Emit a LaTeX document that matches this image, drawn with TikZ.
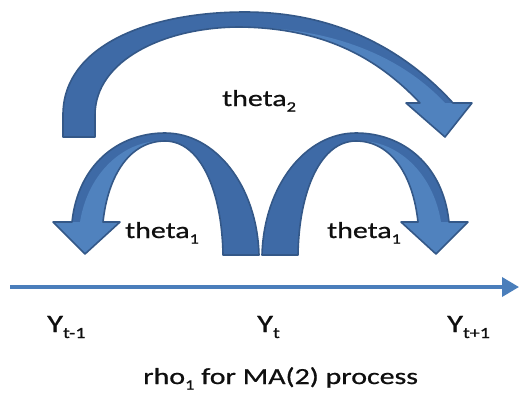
\documentclass[tikz,border=0pt]{standalone}
\usepackage{fontspec}
\setmainfont{Carlito}[FakeStretch=1.3, FakeBold=0.8]
\usetikzlibrary{arrows.meta}
\definecolor{darkface}{RGB}{62,106,166}
\definecolor{lightface}{RGB}{80,130,190}
\definecolor{edgeblue}{RGB}{52,88,136}
\definecolor{axisblue}{RGB}{74,126,187}
\definecolor{txt}{RGB}{15,15,15}
\newcommand{\sbs}[1]{\raisebox{-0.24em}{\scalebox{0.62}{#1}}}
\tikzset{
  darkpart/.style={fill=darkface},
  lightpart/.style={fill=lightface},
  outline/.style={draw=edgeblue, line width=1.6pt, line join=round},
  lbl/.style={inner sep=0pt, anchor=base west, text=txt},
  axisline/.style={draw=axisblue, line width=3.6pt, -{Triangle[length=17pt,width=19pt]}}
}
\newcommand{\smallarch}{%
  \path[darkpart] (72,222) .. controls (78,165) and (118,133) .. (165,133)
     .. controls (215,133) and (257,185) .. (259,255) -- (223,255)
     .. controls (222,190) and (200,141) .. (165,141)
     .. controls (130,141) and (108,175) .. (103,222) -- (120,222) -- (85,254) -- (53,222) -- cycle;
  \path[lightpart] (165,141) .. controls (130,141) and (108,175) .. (103,222)
     -- (120,222) -- (85,254) -- (53,222) -- (80,222)
     .. controls (88,172) and (125,139) .. (165,141) -- cycle;
  \path[outline] (72,222) .. controls (78,165) and (118,133) .. (165,133)
     .. controls (215,133) and (257,185) .. (259,255) -- (223,255)
     .. controls (222,190) and (200,141) .. (165,141)
     .. controls (130,141) and (108,175) .. (103,222) -- (120,222) -- (85,254) -- (53,222) -- cycle;
}
\begin{document}
\begin{tikzpicture}[x=1pt,y=-1pt]
\useasboundingbox[fill=white] (0,0) rectangle (519,397);
% big arrow (theta2)
\path[darkpart] (63,137) -- (63,115) .. controls (63,45) and (150,12) .. (245,12)
   .. controls (330,12) and (400,45) .. (453,103) -- (472,103) -- (445,137) -- (406,103) -- (420,103)
   .. controls (375,55) and (320,28) .. (240,27) .. controls (165,27) and (95,60) .. (95,115) -- (95,137) -- cycle;
\path[lightpart] (420,103) .. controls (375,55) and (320,28) .. (240,27)
   .. controls (330,27) and (400,55) .. (445,103) -- (472,103) -- (445,137) -- (406,103) -- cycle;
\path[outline] (63,137) -- (63,115) .. controls (63,45) and (150,12) .. (245,12)
   .. controls (330,12) and (400,45) .. (453,103) -- (472,103) -- (445,137) -- (406,103) -- (420,103)
   .. controls (375,55) and (320,28) .. (240,27) .. controls (165,27) and (95,60) .. (95,115) -- (95,137) -- cycle;
% left small arch
\begin{scope}
\smallarch
\end{scope}
% right small arch (mirror)
\begin{scope}[shift={(521,0)}, xscale=-1]
\smallarch
\end{scope}
% time axis
\coordinate (axstart) at (10,287);
\coordinate (axend) at (519,287);
\draw[axisline] (axstart) -- (axend);
% labels
\node[lbl, font=\fontsize{23}{26}\selectfont] (th2) at (222,106) {theta\sbs{2}};
\node[lbl, font=\fontsize{23}{26}\selectfont] (th1l) at (125,238) {theta\sbs{1}};
\node[lbl, font=\fontsize{23}{26}\selectfont] (th1r) at (327,238) {theta\sbs{1}};
\node[lbl, font=\fontsize{25}{28}\selectfont] (ytm) at (47,332) {Y\sbs{t-1}};
\node[lbl, font=\fontsize{25}{28}\selectfont] (yt) at (257,332) {Y\sbs{t}};
\node[lbl, font=\fontsize{25}{28}\selectfont] (ytp) at (447,332) {Y\sbs{t+1}};
\node[lbl, font=\fontsize{23}{26}\selectfont] (cap) at (143,384) {rho\sbs{1} for MA(2) process};
\end{tikzpicture}
\end{document}
